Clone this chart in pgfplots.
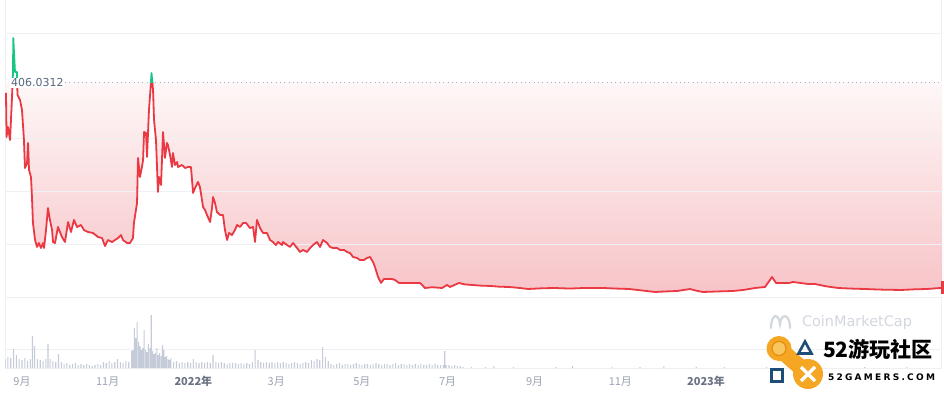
\documentclass[border=0pt]{standalone}
\usepackage{pgfplots}
\pgfplotsset{compat=1.18}
\usepackage{pgfplotstable}
\usepackage{fontspec}
\usepackage{graphicx}
\setmainfont{Noto Sans CJK SC}
\newfontfamily\cjk{Noto Sans CJK SC}
\newfontfamily\latin{DejaVu Sans}
\definecolor{cmcred}{HTML}{EA3943}
\definecolor{cmcgreen}{HTML}{16C784}
\definecolor{gridc}{HTML}{EEF0F3}
\definecolor{volc}{HTML}{C5CBD8}
\definecolor{lblc}{HTML}{58667E}
\definecolor{dotc}{HTML}{A7AFBF}
\definecolor{tickc}{HTML}{9CA3B2}
\definecolor{yearc}{HTML}{6B7383}
\definecolor{fillTop}{HTML}{FEF7F7}
\definecolor{fillBot}{HTML}{F7C3C7}
\definecolor{logoorange}{HTML}{F5A623}
\definecolor{logolight}{HTML}{F9C65E}
\definecolor{logodark}{HTML}{E58E12}
\definecolor{logoblue}{HTML}{1E4D78}
\definecolor{cmcgray}{HTML}{D3D7DE}

\pgfplotstableread{
day price
-11.4 387.0
-11.0 303.5
-10.0 322.5
-8.5 297.8
-7.1 379.4
-6.4 426.8
-6.2 491.3
-5.0 426.8
-3.6 426.8
-3.2 383.2
-1.4 373.7
0.0 354.7
1.4 297.8
2.1 244.7
3.6 254.2
4.3 292.1
5.0 240.9
6.4 227.6
7.1 189.7
7.8 140.4
9.3 108.1
10.7 94.9
12.1 102.4
13.5 93.0
15.0 102.4
15.7 93.0
17.1 127.1
18.5 168.8
19.9 146.1
21.4 127.1
22.1 104.3
23.5 102.4
25.6 132.8
28.5 113.8
30.6 104.3
32.8 142.3
34.9 123.3
37.0 146.1
39.2 132.8
42.0 136.6
44.1 127.1
47.0 123.3
50.6 121.4
54.1 113.8
57.0 111.9
59.1 96.7
61.2 108.1
64.1 104.3
66.2 108.1
68.4 111.9
70.5 117.6
71.9 108.1
74.8 102.4
76.9 102.4
79.0 111.9
79.7 140.4
81.9 178.3
82.6 263.7
84.0 227.6
85.4 246.6
86.2 259.9
86.9 313.0
88.3 311.1
89.0 265.6
90.4 354.7
91.8 406.0
92.2 424.9
93.3 392.7
94.0 335.8
95.4 297.8
96.8 199.2
97.5 227.6
99.0 212.5
100.4 313.0
101.8 263.7
103.2 292.1
103.9 288.3
105.4 269.4
106.8 246.6
107.5 273.2
108.9 250.4
110.4 256.1
111.1 246.6
113.9 250.4
116.1 244.7
118.2 246.6
120.3 246.6
121.8 197.3
123.2 206.8
125.3 218.2
126.7 208.7
128.9 170.7
130.3 165.0
131.7 155.6
133.9 142.3
135.3 168.8
136.0 189.7
137.4 178.3
138.8 161.2
141.0 155.6
143.1 155.6
144.5 127.1
146.0 108.1
147.4 121.4
149.5 117.6
151.6 127.1
153.1 136.6
155.2 132.8
157.4 140.4
159.5 140.4
162.3 130.9
164.5 132.8
165.9 104.3
167.3 146.1
169.5 130.9
171.6 121.4
174.4 121.4
176.6 108.1
178.7 104.3
180.8 98.6
182.3 104.3
185.1 98.6
185.8 104.3
188.7 98.6
190.8 94.9
193.0 102.4
195.8 93.0
197.9 85.4
200.1 89.2
202.9 85.4
205.1 93.0
207.2 98.6
210.0 104.3
212.2 94.9
214.3 108.1
217.2 102.4
219.3 94.9
221.4 93.0
224.3 93.0
226.4 89.2
229.3 89.2
231.4 85.4
233.5 83.5
235.7 75.9
238.5 74.0
240.6 70.2
243.5 70.2
245.6 74.0
247.8 75.9
249.9 66.4
251.3 56.9
253.5 37.9
255.6 26.6
257.7 34.1
263.4 34.1
265.6 32.2
268.4 26.6
272.7 26.6
283.4 26.6
286.9 17.1
292.0 18.5
299.0 17.1
302.6 22.8
304.7 19.0
311.1 26.6
315.0 24.0
320.4 22.8
327.0 21.5
333.9 20.9
340.0 19.5
346.7 19.0
353.0 17.5
360.3 15.2
370.0 16.5
378.8 17.1
390.0 16.0
400.1 17.1
413.7 17.1
423.0 16.0
432.2 15.2
441.0 12.5
450.7 9.5
458.0 10.5
466.4 11.4
475.6 15.2
480.0 12.0
484.9 9.5
495.0 10.5
506.2 11.4
514.0 13.5
521.9 17.1
529.0 19.0
534.0 37.9
536.8 26.6
546.1 26.6
548.9 28.5
559.6 24.7
564.6 24.7
572.0 20.5
581.0 17.1
590.0 16.0
599.5 15.2
612.0 14.0
625.8 13.3
635.0 14.5
644.3 15.2
653.5 17.1
655.0 17.1
}\pricedata

\pgfplotstableread{
day vol
-12 9
-10 11
-8 10
-6 19
-4 13
-2 9
0 8
2 10
4 7
6 9
7.5 32
9 22
11 9
13 8
15 7
17 9
18.5 24
20 9
22 7
24 6
26 14
28 6
30 4
32 5
34 3
36 4
38 5
40 3
42 4
44 3
46 4
48 3
50 2
52 3
54 4
56 3
58 6
60 5
62 7
64 5
66 6
68 9
70 6
72 5
74 7
76 6
78 17
79 18
80 40
81 30
82 46
83 26
84 22
85 18
86 20
87 38
88 18
89 16
90 24
91 20
92 53
93 17
94 14
95 15
96 20
97 13
98 15
99 12
100 23
101 18
102 11
103 12
104 9
105 8
106 10
108 6
110 7
112 5
114 6
116 5
118 6
120 5
122 9
124 6
126 5
128 6
130 5
132 6
134 5
136 13
138 6
140 5
142 6
144 5
146 4
148 5
150 5
152 5
154 4
156 5
158 4
160 5
162 4
164 6
166 18
168 8
170 6
172 5
174 6
176 5
178 6
180 5
182 6
184 5
186 6
188 5
190 4
192 5
194 6
196 5
198 4
200 5
202 6
204 5
206 8
208 7
210 9
212 8
214 21
216 11
218 7
220 4
222 3
224 4
226 5
228 3
230 4
232 4
234 3
236 4
238 5
240 4
242 3
244 4
246 4
248 3
250 4
252 5
254 4
256 3
258 4
260 4
262 3
264 4
266 5
268 3
270 4
272 4
274 3
276 4
278 3
280 4
282 3
284 4
286 3
288 3
290 4
292 3
294 4
296 3
298 3
300 3
301 17
302 3
304 3
306 2
308 3
310 2
312 2
314 1
320 1
330 1
336 2
350 1
380 1
392 2
420 1
440 1
457 2
480 1
500 1
530 1
560 1
600 1
630 1
}\voldata

\begin{document}
\begin{tikzpicture}[x=1bp,y=1bp]
\useasboundingbox (0,0) rectangle (944,394);
\fill[white] (0,0) rectangle (944,394);
\draw[gridc, line width=1bp] (5,26) -- (5,394);
\draw[gridc, line width=1bp] (941,26) -- (941,394);

% ---------- price panel ----------
\begin{axis}[at={(5bp,97bp)}, anchor=south west, scale only axis,
  width=937bp, height=263.6bp, xmin=-12.1, xmax=655, ymin=0, ymax=500,
  hide axis, clip=false]
\path[top color=fillTop, bottom color=fillBot] (axis cs:-11.4,406.03) rectangle (axis cs:655,0);
\addplot[draw=none, fill=white] table[x=day,y=price]{\pricedata} \closedcycle;
\draw[gridc, line width=0.9bp] (axis cs:-12.1,0) -- (axis cs:655,0);
\draw[gridc, line width=0.9bp] (axis cs:-12.1,100) -- (axis cs:655,100);
\draw[gridc, line width=0.9bp] (axis cs:-12.1,200) -- (axis cs:655,200);
\draw[gridc, line width=0.9bp] (axis cs:-12.1,300) -- (axis cs:655,300);
\draw[gridc, line width=0.9bp] (axis cs:-12.1,500) -- (axis cs:655,500);
\draw[dotc, line width=0.9bp, dash pattern=on 0.9bp off 3.4bp] (axis cs:30.6,406.03) -- (axis cs:655,406.03);
\begin{scope}
\clip (axis cs:-13,-20) rectangle (axis cs:660,406.03);
\addplot[cmcred, line width=1.8bp, line join=round] table[x=day,y=price]{\pricedata};
\end{scope}
\begin{scope}
\clip (axis cs:-13,406.03) rectangle (axis cs:660,540);
\addplot[cmcgreen, line width=1.8bp, line join=round] table[x=day,y=price]{\pricedata};
\end{scope}
\addplot[cmcred, only marks, mark=|, mark size=6.5bp, mark options={line width=3bp}] coordinates {(655.5,17.1)};
\node[anchor=west, fill=white, inner sep=1bp, xshift=5bp, text=lblc,
  font=\latin\fontsize{11}{11}\selectfont] at (axis cs:-12.1,406.03) {406.0312};
\end{axis}

% ---------- volume panel ----------
\begin{axis}[at={(5bp,26bp)}, anchor=south west, scale only axis,
  width=937bp, height=68bp, xmin=-12.1, xmax=655, ymin=0, ymax=68,
  ytick={0,19}, yticklabels={\empty,\empty}, ymajorgrids,
  grid style={gridc, line width=0.9bp},
  axis line style={draw=none}, major tick length=0pt,
  xtick={0,61,122,181,242,303,365,426,487},
  xticklabels={9月,11月,{\color{yearc}\bfseries 2022年},3月,5月,7月,9月,11月,{\color{yearc}\bfseries 2023年}},
  xticklabel style={text=tickc, font=\cjk\fontsize{11}{11}\selectfont, yshift=-5bp},
  ybar, bar width=1.1bp]
\addplot[fill=volc, draw=none] table[x=day,y=vol]{\voldata};
\end{axis}

% ---------- watermarks ----------
\draw[cmcgray, line width=2.2bp, line cap=round] (771,66) .. controls (771,81) and (779,81) .. (780,70) .. controls (781,81) and (790,81) .. (790,66);
\node[inner sep=0] at (857,71) {\resizebox{110bp}{!}{\color{cmcgray}\latin CoinMarketCap}};

\draw[logoorange, line width=16bp] (779,45.5) -- (808,20);
\fill[logoorange] (779,45.5) circle (12.5);
\fill[logoorange] (808,20) circle (15);
\fill[logolight] (779,45.5) circle (7);
\draw[logodark, line width=1.2bp] (779,45.5) circle (7);
\draw[white, line width=3.5bp] (801,13) -- (815,27) (801,27) -- (815,13);
\draw[logoblue, line width=2.6bp, line join=miter] (798.5,40.5) -- (811.5,40.5) -- (805,52.5) -- cycle;
\draw[logoblue, line width=2.8bp] (771.5,12.5) rectangle (782.5,24.5);
\node[inner sep=0] at (878,44.5) {\resizebox{110bp}{!}{\cjk\bfseries 52游玩社区}};
\node[inner sep=0] at (881.5,17) {\resizebox{107bp}{!}{\latin\bfseries\addfontfeatures{LetterSpace=25} 52GAMERS.COM}};
\end{tikzpicture}
\end{document}
